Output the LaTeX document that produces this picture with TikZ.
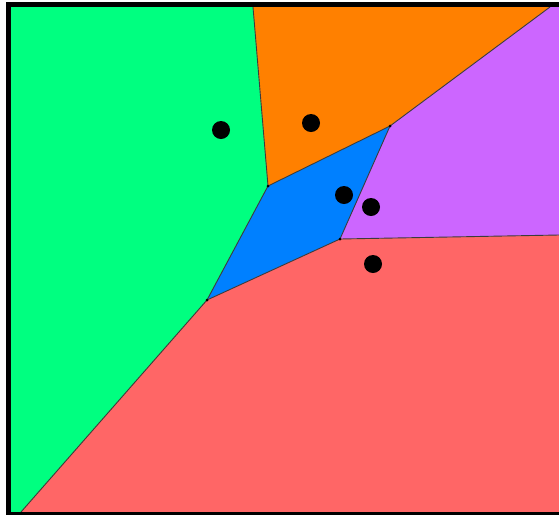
\documentclass[tikz,border=0pt]{standalone}
\definecolor{cgreen}{RGB}{0,255,128}
\definecolor{corange}{RGB}{255,128,0}
\definecolor{cblue}{RGB}{0,128,255}
\definecolor{cpurple}{RGB}{204,102,255}
\definecolor{cred}{RGB}{255,102,102}
\definecolor{edgegray}{RGB}{60,60,60}
\tikzset{
  site/.style={circle,fill=black,inner sep=0pt,minimum size=18pt},
  vtx/.style={circle,fill=black,inner sep=0pt,minimum size=3pt},
  edge/.style={draw=edgegray,line width=0.9pt},
}
\begin{document}
\begin{tikzpicture}[x=1pt,y=-1pt]
\useasboundingbox (0,0) rectangle (559,515);
\fill[white] (0,0) rectangle (559,515);
% corners / vertices
\coordinate (TL) at (11,7);
\coordinate (BL) at (11,512);
\coordinate (TR) at (559,7);
\coordinate (BR) at (559,512);
\coordinate (v1) at (253,7);
\coordinate (v2) at (268,186);
\coordinate (v3) at (390,126);
\coordinate (v4) at (550,7);
\coordinate (v5) at (340,239);
\coordinate (v6) at (207,300);
\coordinate (v7) at (21,512);
\coordinate (v8) at (559,235);
% regions
\fill[cgreen] (TL) -- (v1) -- (v2) -- (v6) -- (v7) -- (BL) -- cycle;
\fill[corange] (v1) -- (v4) -- (v3) -- (v2) -- cycle;
\fill[cpurple] (v4) -- (TR) -- (v8) -- (v5) -- (v3) -- cycle;
\fill[cblue] (v2) -- (v3) -- (v5) -- (v6) -- cycle;
\fill[cred] (v6) -- (v5) -- (v8) -- (BR) -- (v7) -- cycle;
% edges
\draw[edge] (v1) -- (v2) -- (v6) -- (v7);
\draw[edge] (v2) -- (v3) -- (v4);
\draw[edge] (v3) -- (v5) -- (v8);
\draw[edge] (v5) -- (v6);
\foreach \v in {v2,v3,v5,v6} \node[vtx] at (\v) {};
% frame
\fill[black] (6,2) rectangle (559,7);
\fill[black] (6,2) rectangle (11,515);
\fill[black] (6,512) rectangle (559,515);
% sites
\node[site] (sg) at (221,130) {};
\node[site] (so) at (311,123) {};
\node[site] (sb) at (344,195) {};
\node[site] (sp) at (371,207) {};
\node[site] (sr) at (373,264) {};
\end{tikzpicture}
\end{document}
